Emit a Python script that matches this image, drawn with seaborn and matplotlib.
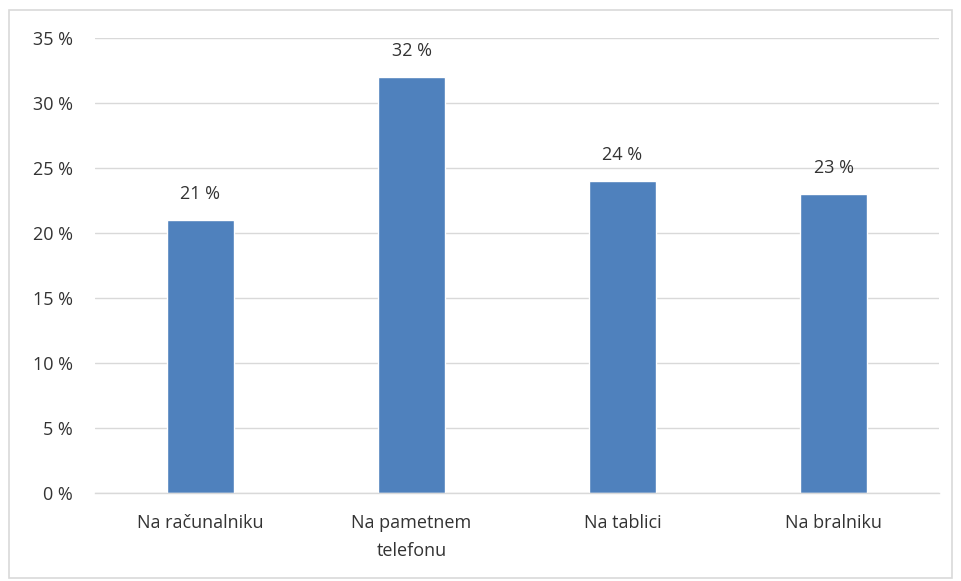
import matplotlib
matplotlib.use("Agg")
import matplotlib.pyplot as plt
import seaborn as sns
import pandas as pd
from matplotlib.patches import Rectangle

categories = ["Na računalniku", "Na pametnem\ntelefonu", "Na tablici", "Na bralniku"]
values = [21, 32, 24, 23]
yticks = [0, 5, 10, 15, 20, 25, 30, 35]

sns.set_theme(style="white")
plt.rcParams['font.family'] = ['Open Sans', 'DejaVu Sans']

df = pd.DataFrame({"cat": categories, "val": values})
txt = "#333333"
fs = 13

fig = plt.figure(figsize=(9.61, 5.81), dpi=100)
ax = fig.add_axes([95/961, 1-493/581, 844/961, 455/581])
sns.barplot(data=df, x="cat", y="val", color="#4F81BD", saturation=1, width=0.32, ax=ax)

ax.set_ylim(0, 35)
ax.set_xlim(-0.5, len(categories)-0.5)
ax.set_yticks(yticks)
ax.set_yticklabels([f"{t} %" for t in yticks], fontsize=fs, color=txt)
ax.set_xticks(range(len(categories)))
ax.set_xticklabels(categories, fontsize=fs, color=txt, linespacing=1.75)
ax.set_xlabel("")
ax.set_ylabel("")
ax.yaxis.grid(True, color="#D9D9D9", linewidth=1)
ax.set_axisbelow(True)
for s in ["top", "right", "left"]:
    ax.spines[s].set_visible(False)
ax.spines["bottom"].set_color("#D9D9D9")
ax.spines["bottom"].set_linewidth(1)
ax.tick_params(axis="both", length=0)
ax.tick_params(axis="y", pad=16)
ax.tick_params(axis="x", pad=15)

for i, v in enumerate(values):
    ax.annotate(f"{v} %", (i, v), xytext=(0, 12), textcoords="offset points",
                ha="center", va="bottom", fontsize=fs, color=txt)

fig.patches.append(Rectangle((9/961, 1-578/581), 943/961, 568/581, transform=fig.transFigure,
                             fill=False, edgecolor="#D9D9D9", linewidth=1.2))

fig.savefig("out.png", dpi=100)
